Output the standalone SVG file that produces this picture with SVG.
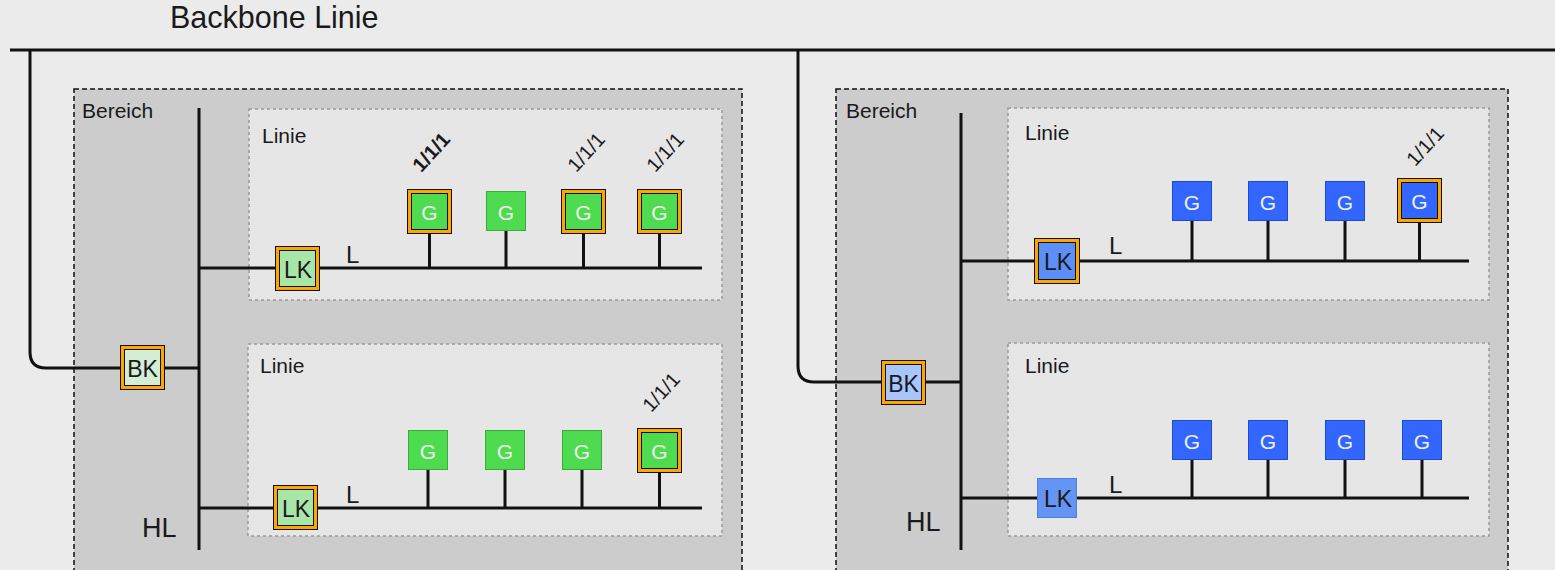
<svg xmlns="http://www.w3.org/2000/svg" width="1555" height="570" viewBox="0 0 1555 570">
<style>
text{font-family:"Liberation Sans",Arial,sans-serif;fill:#1a1a1a}
.title{font-size:30.5px}
.lbl{font-size:21px}
.L{font-size:24px}
.hl{font-size:27px}
.box{font-size:23px;text-anchor:middle;dominant-baseline:central}
.g{font-size:21px;text-anchor:middle;dominant-baseline:central;fill:#eef2ee}
.addr{font-size:20px;text-anchor:middle;dominant-baseline:central}
.bereich{fill:#cccccc;stroke:#111;stroke-width:1.5;stroke-dasharray:5 3}
.linie{fill:#e6e6e6;stroke:#999;stroke-width:1.5;stroke-dasharray:3 3}
.wire{fill:none;stroke:#111;stroke-width:3}
.ring{fill:#ffa500;stroke:#111;stroke-width:1}
.in{stroke:#111;stroke-width:1}
.gg{fill:#4fdb4f;stroke:#3aac3a;stroke-width:1}
.gb{fill:#3366ff;stroke:#1f4ad0;stroke-width:1}
.lkg{fill:#a8e6a8}
.bkg{fill:#d5ecd5}
.lkb{fill:#5c8ff7}
.bkb{fill:#a9c5ff}
</style>
<rect x="0" y="0" width="1555" height="570" fill="#ebebeb"/>
<text class="title" x="170" y="28">Backbone Linie</text>

<g id="bereich-left">
<rect class="bereich" x="74" y="89" width="668" height="490"/>
<text class="lbl" x="82" y="118">Bereich</text>
</g>
<g id="bereich-right">
<rect class="bereich" x="836" y="89" width="672" height="490"/>
<text class="lbl" x="846" y="118">Bereich</text>
</g>
<g id="linie-left-top">
<rect class="linie" x="249" y="109" width="473" height="191"/>
<text class="lbl" x="262" y="143">Linie</text>
</g>
<g id="linie-left-bottom">
<rect class="linie" x="248" y="344" width="474" height="192"/>
<text class="lbl" x="260" y="373">Linie</text>
</g>
<g id="linie-right-top">
<rect class="linie" x="1008" y="108" width="481" height="192"/>
<text class="lbl" x="1025" y="140">Linie</text>
</g>
<g id="linie-right-bottom">
<rect class="linie" x="1008" y="343" width="481" height="193"/>
<text class="lbl" x="1025" y="373">Linie</text>
</g>

<g id="connectors">
<line class="wire" x1="10" y1="50" x2="1555" y2="50"/>
<path class="wire" d="M30 50 V352 Q30 368 46 368 H199"/>
<path class="wire" d="M798 50 V366 Q798 382 814 382 H961"/>
<line class="wire" x1="199" y1="108" x2="199" y2="550"/>
<line class="wire" x1="961" y1="113" x2="961" y2="550"/>
<line class="wire" x1="199" y1="268" x2="702" y2="268"/>
<line class="wire" x1="199" y1="508" x2="702" y2="508"/>
<line class="wire" x1="961" y1="261" x2="1469" y2="261"/>
<line class="wire" x1="961" y1="498" x2="1469" y2="498"/>
<line class="wire" x1="429.5" y1="234" x2="429.5" y2="268"/>
<line class="wire" x1="506" y1="231" x2="506" y2="268"/>
<line class="wire" x1="583.5" y1="234" x2="583.5" y2="268"/>
<line class="wire" x1="659.5" y1="234" x2="659.5" y2="268"/>
<line class="wire" x1="428" y1="470" x2="428" y2="508"/>
<line class="wire" x1="505" y1="470" x2="505" y2="508"/>
<line class="wire" x1="582" y1="470" x2="582" y2="508"/>
<line class="wire" x1="659.5" y1="473" x2="659.5" y2="508"/>
<line class="wire" x1="1192" y1="221" x2="1192" y2="261"/>
<line class="wire" x1="1268" y1="221" x2="1268" y2="261"/>
<line class="wire" x1="1345" y1="221" x2="1345" y2="261"/>
<line class="wire" x1="1419.5" y1="223" x2="1419.5" y2="261"/>
<line class="wire" x1="1192" y1="460" x2="1192" y2="498"/>
<line class="wire" x1="1268" y1="460" x2="1268" y2="498"/>
<line class="wire" x1="1345" y1="460" x2="1345" y2="498"/>
<line class="wire" x1="1422" y1="460" x2="1422" y2="498"/>
</g>

<g id="labels">
<text class="L" x="346" y="263">L</text>
<text class="L" x="346" y="503">L</text>
<text class="L" x="1109" y="254">L</text>
<text class="L" x="1109" y="493">L</text>
<text class="hl" x="142" y="537">HL</text>
<text class="hl" x="906" y="531">HL</text>
<text class="addr" x="431" y="152" font-weight="bold" transform="rotate(-48 431 152)">1/1/1</text>
<text class="addr" x="586" y="152" transform="rotate(-48 586 152)">1/1/1</text>
<text class="addr" x="665" y="152" transform="rotate(-48 665 152)">1/1/1</text>
<text class="addr" x="661" y="392" transform="rotate(-48 661 392)">1/1/1</text>
<text class="addr" x="1425" y="146" transform="rotate(-48 1425 146)">1/1/1</text>
</g>

<g id="bk-left"><rect class="ring" x="120.5" y="345.5" width="44" height="44"/><rect class="in bkg" x="124.5" y="349.5" width="36" height="36"/><text class="box" x="142.5" y="368.5">BK</text></g>
<g id="lk-left-top"><rect class="ring" x="275.5" y="246.5" width="44" height="44"/><rect class="in lkg" x="279.5" y="250.5" width="36" height="36"/><text class="box" x="298" y="269.5">LK</text></g>
<g id="lk-left-bottom"><rect class="ring" x="273.5" y="485.5" width="44" height="44"/><rect class="in lkg" x="277.5" y="489.5" width="36" height="36"/><text class="box" x="296" y="508.5">LK</text></g>

<g id="g-lt-1"><rect class="ring" x="407.5" y="189.5" width="44" height="44"/><rect class="in gg" x="411.5" y="193.5" width="36" height="36" style="stroke:#111"/><text class="g" x="429.5" y="212.5">G</text></g>
<g id="g-lt-2"><rect class="gg" x="486.5" y="191.5" width="39" height="39"/><text class="g" x="506" y="212">G</text></g>
<g id="g-lt-3"><rect class="ring" x="561.5" y="189.5" width="44" height="44"/><rect class="in gg" x="565.5" y="193.5" width="36" height="36" style="stroke:#111"/><text class="g" x="583.5" y="212.5">G</text></g>
<g id="g-lt-4"><rect class="ring" x="637.5" y="189.5" width="44" height="44"/><rect class="in gg" x="641.5" y="193.5" width="36" height="36" style="stroke:#111"/><text class="g" x="659.5" y="212.5">G</text></g>

<g id="g-lb-1"><rect class="gg" x="408.5" y="430.5" width="39" height="39"/><text class="g" x="428" y="451">G</text></g>
<g id="g-lb-2"><rect class="gg" x="485.5" y="430.5" width="39" height="39"/><text class="g" x="505" y="451">G</text></g>
<g id="g-lb-3"><rect class="gg" x="562.5" y="430.5" width="39" height="39"/><text class="g" x="582" y="451">G</text></g>
<g id="g-lb-4"><rect class="ring" x="637.5" y="428.5" width="44" height="44"/><rect class="in gg" x="641.5" y="432.5" width="36" height="36" style="stroke:#111"/><text class="g" x="659.5" y="451.5">G</text></g>

<g id="bk-right"><rect class="ring" x="881.5" y="360.5" width="44" height="44"/><rect class="in bkb" x="885.5" y="364.5" width="36" height="36"/><text class="box" x="903.5" y="383.5">BK</text></g>
<g id="lk-right-top"><rect class="ring" x="1034.5" y="238.5" width="45" height="45"/><rect class="in lkb" x="1038.5" y="242.5" width="37" height="37"/><text class="box" x="1058" y="262">LK</text></g>
<g id="lk-right-bottom"><rect x="1037.5" y="478.5" width="39" height="39" fill="#6495f5" stroke="#4f7fe0" stroke-width="1"/><text class="box" x="1058" y="499">LK</text></g>

<g id="g-rt-1"><rect class="gb" x="1172.5" y="181.5" width="39" height="39"/><text class="g" x="1192" y="202">G</text></g>
<g id="g-rt-2"><rect class="gb" x="1248.5" y="181.5" width="39" height="39"/><text class="g" x="1268" y="202">G</text></g>
<g id="g-rt-3"><rect class="gb" x="1325.5" y="181.5" width="39" height="39"/><text class="g" x="1345" y="202">G</text></g>
<g id="g-rt-4"><rect class="ring" x="1397.5" y="178.5" width="44" height="44"/><rect class="in gb" x="1401.5" y="182.5" width="36" height="36" style="stroke:#111"/><text class="g" x="1419.5" y="201.5">G</text></g>

<g id="g-rb-1"><rect class="gb" x="1172.5" y="420.5" width="39" height="39"/><text class="g" x="1192" y="441">G</text></g>
<g id="g-rb-2"><rect class="gb" x="1248.5" y="420.5" width="39" height="39"/><text class="g" x="1268" y="441">G</text></g>
<g id="g-rb-3"><rect class="gb" x="1325.5" y="420.5" width="39" height="39"/><text class="g" x="1345" y="441">G</text></g>
<g id="g-rb-4"><rect class="gb" x="1402.5" y="420.5" width="39" height="39"/><text class="g" x="1422" y="441">G</text></g>
</svg>
